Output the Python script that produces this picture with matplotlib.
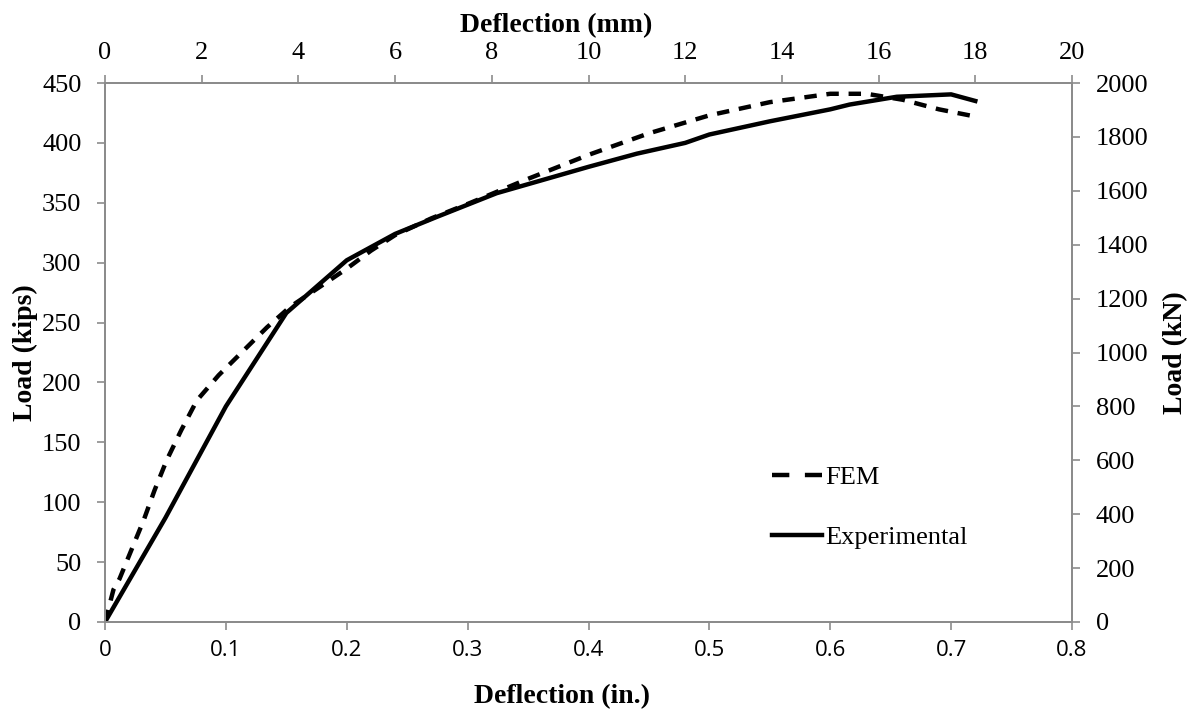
import matplotlib
matplotlib.use('Agg')
import matplotlib.pyplot as plt
from matplotlib.lines import Line2D

# FEM vs experimental load-deflection
fem_x = [0, 0.007, 0.012, 0.023, 0.032, 0.041, 0.051, 0.063, 0.076, 0.094, 0.113,
         0.134, 0.153, 0.178, 0.2, 0.22, 0.24, 0.27, 0.3, 0.35, 0.4, 0.45, 0.5,
         0.55, 0.6, 0.63, 0.66, 0.69, 0.72]
fem_y = [0, 27, 36, 63, 85, 110, 135, 160, 185, 206, 225,
         246, 263, 280, 295, 310, 323, 337, 349, 370, 390, 408, 423,
         434, 441, 441, 436, 428, 422]

exp_x = [0, 0.05, 0.1, 0.15, 0.2, 0.24, 0.274, 0.324, 0.4, 0.44, 0.48, 0.5,
         0.55, 0.6, 0.616, 0.655, 0.7, 0.72]
exp_y = [0, 87, 180, 258, 302, 324, 338, 358, 380, 391, 400, 407,
         418, 428, 432, 438.5, 440.5, 435]

x_ticks = [0, 0.1, 0.2, 0.3, 0.4, 0.5, 0.6, 0.7, 0.8]
y_ticks = [0, 50, 100, 150, 200, 250, 300, 350, 400, 450]
mm_ticks = [0, 2, 4, 6, 8, 10, 12, 14, 16, 18, 20]
kn_ticks = [0, 200, 400, 600, 800, 1000, 1200, 1400, 1600, 1800, 2000]

plt.rcParams['font.family'] = 'Liberation Serif'
grey = '#8c8c8c'
lab = dict(fontsize=20, fontweight='bold')

fig = plt.figure(figsize=(11.91, 7.11), dpi=100)
ax = fig.add_axes([105 / 1191, 1 - 622 / 711, 967 / 1191, 539 / 711])

ax.plot(fem_x, fem_y, color='black', lw=3.2, dashes=(2.8, 2.2))
ax.plot(exp_x, exp_y, color='black', lw=3.2)

ax.set_xlim(0, 0.8)
ax.set_ylim(0, 450)
ax.set_xticks(x_ticks)
ax.set_xticklabels([f'{v:g}' for v in x_ticks], family='Open Sans', fontsize=16)
ax.set_yticks(y_ticks)
ax.set_xlabel('Deflection (in.)', **lab)
ax.set_ylabel('Load (kips)', **lab)
ax.xaxis.set_label_coords(0.473, -0.115)
ax.yaxis.set_label_coords(-0.069, 0.5)

ax_r = ax.twinx()
ax_r.set_ylim(0, 2000)
ax_r.set_yticks(kn_ticks)
ax_r.set_ylabel('Load (kN)', **lab)
ax_r.yaxis.set_label_coords(1.094, 0.5)

ax_t = ax.twiny()
ax_t.set_xlim(0, 20)
ax_t.set_xticks(mm_ticks)
ax_t.set_xlabel('Deflection (mm)', **lab)
ax_t.xaxis.set_label_coords(0.467, 1.095)

for a in (ax, ax_r, ax_t):
    for s in a.spines.values():
        s.set_color(grey)
        s.set_linewidth(1.2)
    a.tick_params(which='both', direction='out', length=6, width=1.2,
                  color=grey, labelcolor='black')
ax.tick_params(axis='y', labelsize=19, pad=11)
ax.tick_params(axis='x', pad=7)
ax_r.tick_params(axis='y', labelsize=19, pad=11)
ax_t.tick_params(axis='x', labelsize=19, pad=8)

# legend handles: Excel draws the legend dashes longer than on the curve
handles = [Line2D([], [], color='black', lw=3.2, dashes=(3.9, 3.5)),
           Line2D([], [], color='black', lw=3.2)]
ax.legend(handles, ['FEM', 'Experimental'], loc='center left',
          bbox_to_anchor=(0.69, 0.2124), frameon=False, fontsize=19,
          handlelength=1.9, handletextpad=0.12, labelspacing=1.4,
          borderpad=0, borderaxespad=0)

fig.savefig('out.png', dpi=100)
